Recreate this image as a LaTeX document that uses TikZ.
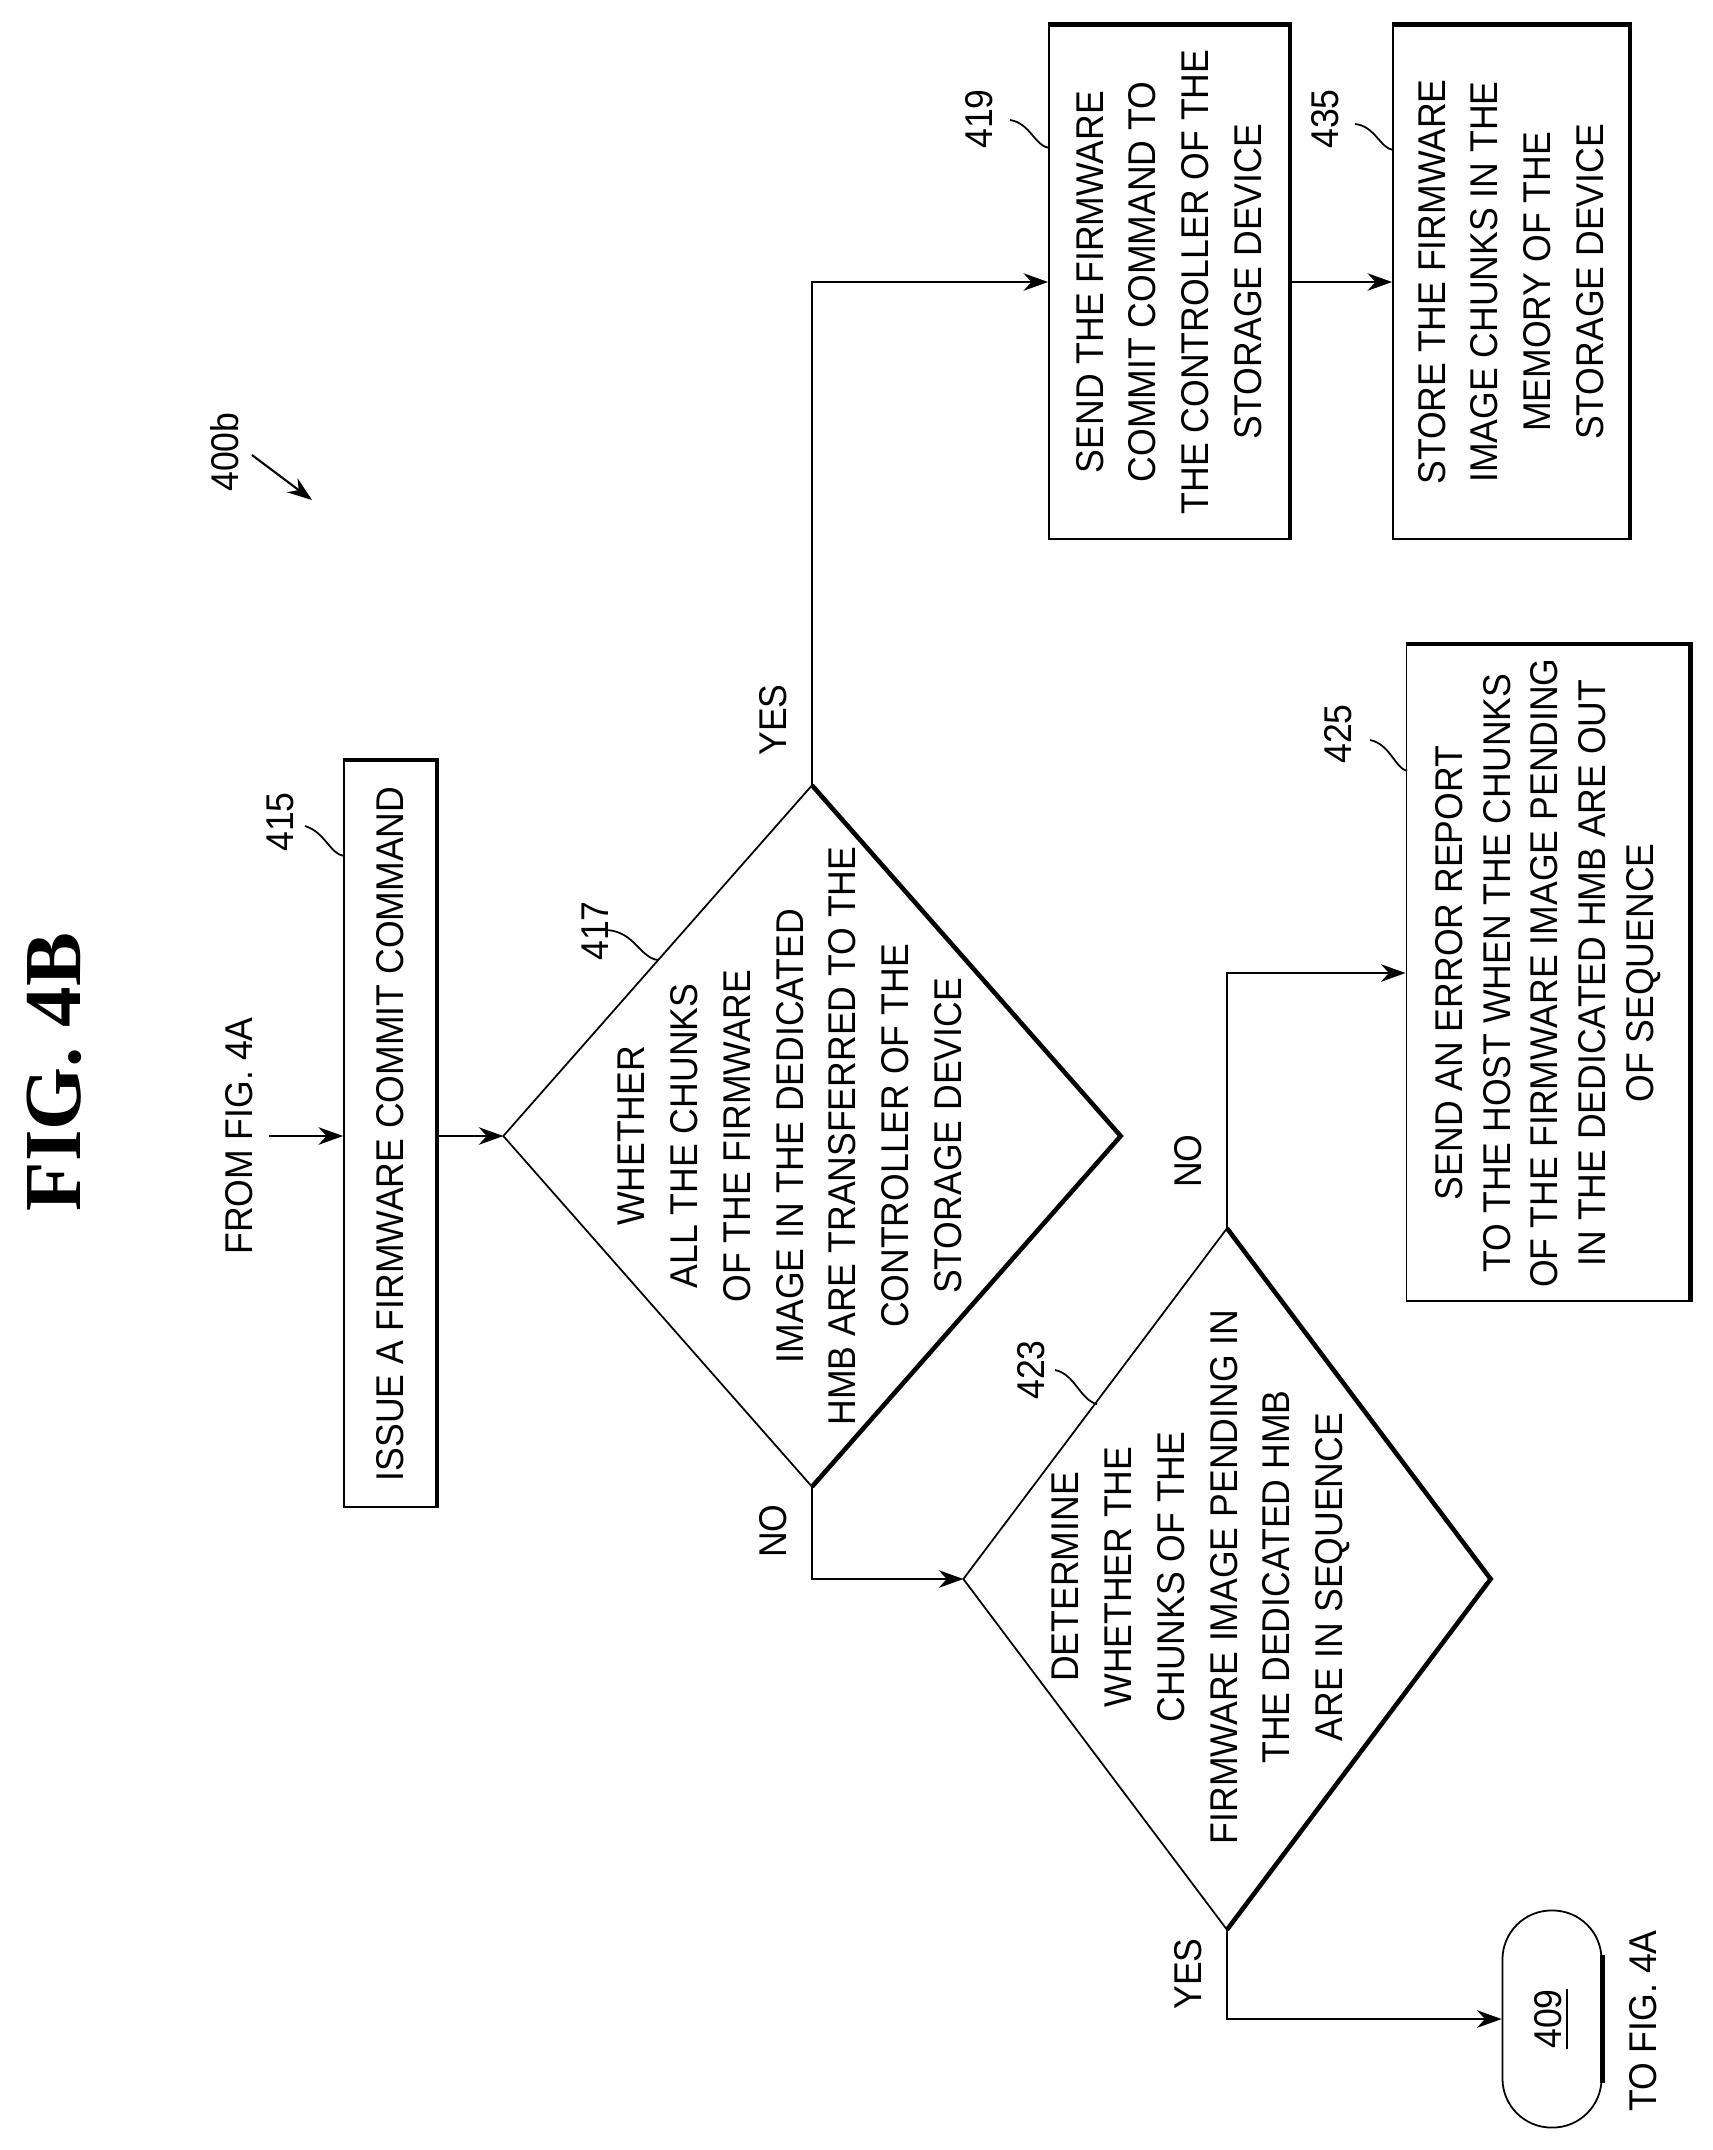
\documentclass[tikz,border=0pt]{standalone}
\usepackage{fontspec}
\setmainfont{Liberation Sans}[FakeStretch=0.92]
\newfontfamily\figfont{Liberation Serif}
\usetikzlibrary{shapes.geometric,arrows.meta}
\begin{document}
\begin{tikzpicture}[x=0.01cm,y=-0.01cm,
  every node/.style={font=\fontsize{11}{15}\selectfont},
  box/.style={draw,rotate=90,rectangle,align=center,inner sep=2pt,line width=0.5pt},
  dia/.style={draw,diamond,inner sep=0pt,outer sep=0pt,line width=0.5pt},
  rtxt/.style={rotate=90,align=center},
  lab/.style={rotate=90},
  shadow/.style={line width=1.3pt},
  arr/.style={-{Stealth[length=7pt,width=5pt]},line width=0.6pt},
  lead/.style={line width=0.5pt}]
\useasboundingbox (0,0) rectangle (1713,2150);
% title
\node[rotate=90,font=\figfont\bfseries\fontsize{23}{25}\selectfont] (title) at (54,1072) {FIG. 4B};
\node[lab] (l400) at (225,452) {400b};
\coordinate (a400s) at (252,455);
\coordinate (a400e) at (312,500);
\draw[arr] (a400s) -- (a400e);
% from
\node[lab] (from) at (239,1136) {FROM FIG. 4A};
\coordinate (fromc) at (269,1136);
% box 415
\node[box,minimum width=7.46cm,minimum height=0.92cm] (b415) at (390,1134) {ISSUE A FIRMWARE COMMIT COMMAND};
\draw[shadow] (b415.north east) -- (b415.south east) -- (b415.south west);
\node[lab] (l415) at (280,822) {415};
\coordinate (q415a) at (305,826);\coordinate (q415b) at (344,856);
\draw[lead] (q415a) .. controls (325,832) and (330,854) .. (q415b);
\draw[arr] (fromc) -- (fromc -| b415.north);
% diamond 417
\node[dia,minimum width=6.17cm,minimum height=7.01cm] (d417) at (812,1136) {};
\draw[shadow] (d417.north) -- (d417.east) -- (d417.south);
\node[rtxt] (t417) at (790,1136) {WHETHER\\ALL THE CHUNKS\\OF THE FIRMWARE\\IMAGE IN THE DEDICATED\\HMB ARE TRANSFERRED TO THE\\CONTROLLER OF THE\\STORAGE DEVICE};
\node[lab] (l417) at (595,931) {417};
\coordinate (q417a) at (607,930);\coordinate (q417b) at (658,960);
\draw[lead] (q417a) .. controls (635,932) and (640,958) .. (q417b);
\draw[arr] (fromc -| b415.south) -- (d417.west);
% box 419
\node[box,minimum width=5.13cm,minimum height=2.40cm] (b419) at (1169,282) {SEND THE FIRMWARE\\COMMIT COMMAND TO\\THE CONTROLLER OF THE\\STORAGE DEVICE};
\draw[shadow] (b419.north east) -- (b419.south east) -- (b419.south west);
\node[lab] (l419) at (979,119) {419};
\coordinate (q419a) at (1010,120);\coordinate (q419b) at (1049,148);
\draw[lead] (q419a) .. controls (1030,123) and (1035,146) .. (q419b);
\draw[arr] (d417.north) |- (b419.north);
\node[lab] (yes1) at (773,720) {YES};
% box 435
\node[box,minimum width=5.13cm,minimum height=2.36cm] (b435) at (1511,282) {STORE THE FIRMWARE\\IMAGE CHUNKS IN THE\\MEMORY OF THE\\STORAGE DEVICE};
\draw[shadow] (b435.north east) -- (b435.south east) -- (b435.south west);
\node[lab] (l435) at (1325,119) {435};
\coordinate (q435a) at (1355,124);\coordinate (q435b) at (1393,150);
\draw[lead] (q435a) .. controls (1375,126) and (1380,148) .. (q435b);
\draw[arr] (b419.south) -- (b435.north);
% diamond 423
\node[dia,minimum width=5.27cm,minimum height=7.01cm] (d423) at (1227,1579) {};
\draw[shadow] (d423.north) -- (d423.east) -- (d423.south);
\node[rtxt] (t423) at (1201,1577) {DETERMINE\\WHETHER THE\\CHUNKS OF THE\\FIRMWARE IMAGE PENDING IN\\THE DEDICATED HMB\\ARE IN SEQUENCE};
\node[lab] (l423) at (1031,1370) {423};
\coordinate (q423a) at (1055,1370);\coordinate (q423b) at (1097,1404);
\draw[lead] (q423a) .. controls (1075,1374) and (1080,1400) .. (q423b);
\draw[arr] (d417.south) |- (d423.west);
\node[lab] (no1) at (773,1531) {NO};
% box 425
\node[box,minimum width=6.56cm,minimum height=2.83cm,font=\fontsize{11}{13.6}\selectfont] (b425) at (1548,973) {SEND AN ERROR REPORT\\TO THE HOST WHEN THE CHUNKS\\OF THE FIRMWARE IMAGE PENDING\\IN THE DEDICATED HMB ARE OUT\\OF SEQUENCE};
\draw[shadow] (b425.north east) -- (b425.south east) -- (b425.south west);
\node[lab] (l425) at (1338,734) {425};
\coordinate (q425a) at (1370,740);\coordinate (q425b) at (1407,771);
\draw[lead] (q425a) .. controls (1390,744) and (1395,768) .. (q425b);
\draw[arr] (d423.north) |- (b425.north);
\node[lab] (no2) at (1188,1161) {NO};
% terminal 409
\node[draw,rotate=90,rectangle,rounded corners=0.49cm,minimum width=2.17cm,minimum height=0.99cm,line width=0.5pt] (t409) at (1552,2019) {\underline{409}};
\draw[shadow,shorten <=0.45cm,shorten >=0.45cm] (t409.south east) -- (t409.south west);
\node[lab] (to) at (1643,2021) {TO FIG. 4A};
\draw[arr] (d423.south) |- (t409.north);
\node[lab] (yes2) at (1188,1974) {YES};
\end{tikzpicture}
\end{document}
